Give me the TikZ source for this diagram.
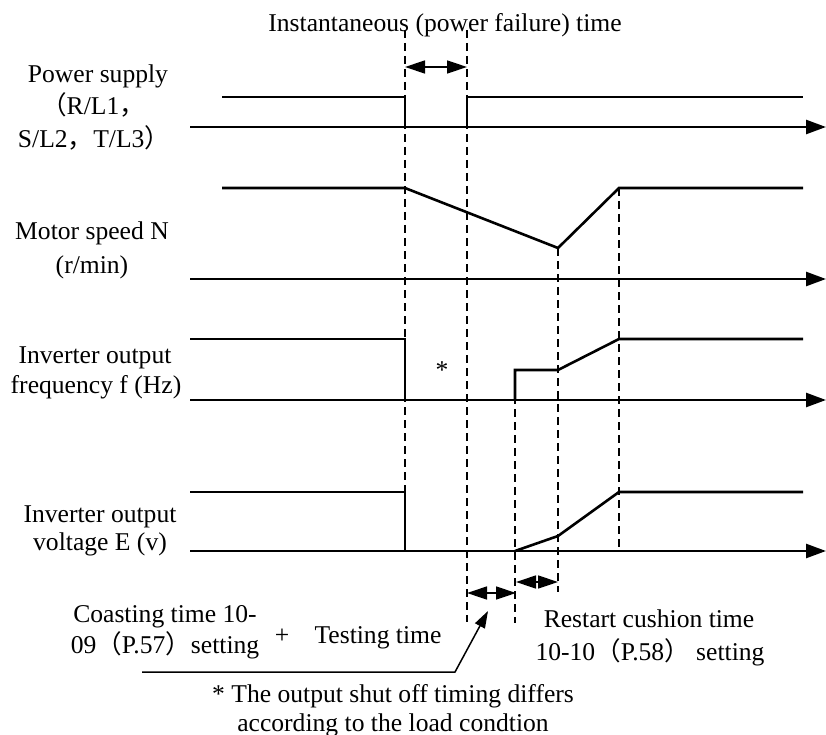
\documentclass[tikz,border=0pt]{standalone}
\usepackage{fontspec}
\setmainfont{Liberation Serif}
\newfontfamily\cjkfont{Noto Sans CJK SC}
\newcommand\fwl{{\cjkfont （}}
\newcommand\fwr{{\cjkfont ）}}
\newcommand\fwc{{\cjkfont ，}}
\usetikzlibrary{arrows.meta}
\tikzset{
  sig/.style={line width=2.6pt, line join=miter},
  axisline/.style={line width=2.6pt, -{Triangle[length=20pt,width=14pt]}},
  guide/.style={line width=1.2pt, dash pattern=on 8pt off 5pt},
  dimarrow/.style={line width=1.4pt, {Triangle[length=20pt,width=13pt]}-{Triangle[length=20pt,width=13pt]}},
  leader/.style={line width=1.5pt, -{Triangle[length=17pt,width=11pt]}},
  lbl/.style={anchor=base, inner sep=0pt}
}
\begin{document}
\begin{tikzpicture}[x=1pt,y=-1pt, font=\fontsize{25.6}{33}\selectfont]
\useasboundingbox (0,0) rectangle (826,735);

% time marks
\coordinate (t1top) at (405,30);  \coordinate (t1bot) at (405,551);
\coordinate (t2top) at (467,30);  \coordinate (t2bot) at (467,622);
\coordinate (t3top) at (515,370); \coordinate (t3bot) at (515,623);
\coordinate (t4top) at (558,248); \coordinate (t4bot) at (558,592);
\coordinate (t5top) at (619,188); \coordinate (t5bot) at (619,551);

\draw[guide] (t1top) -- (t1bot);
\draw[guide] (t2top) -- (t2bot);
\draw[guide] (t3top) -- (t3bot);
\draw[guide] (t4top) -- (t4bot);
\draw[guide] (t5top) -- (t5bot);

% axes
\coordinate (a1s) at (190,127); \coordinate (a1e) at (826,127);
\coordinate (a2s) at (190,279); \coordinate (a2e) at (826,279);
\coordinate (a3s) at (190,400); \coordinate (a3e) at (826,400);
\coordinate (a4s) at (190,551); \coordinate (a4e) at (826,551);
\draw[axisline] (a1s) -- (a1e);
\draw[axisline] (a2s) -- (a2e);
\draw[axisline] (a3s) -- (a3e);
\draw[axisline] (a4s) -- (a4e);

% power supply
\draw[sig] (222,97) -- (405,97) -- (405,127);
\draw[sig] (467,127) -- (467,97) -- (803,97);

% motor speed
\draw[sig] (222,188) -- (405,188) -- (558,248) -- (619,188) -- (803,188);

% frequency
\draw[sig] (190,339) -- (405,339) -- (405,400);
\draw[sig] (515,400) -- (515,370) -- (558,370) -- (619,339) -- (803,339);

% voltage
\draw[sig] (190,492) -- (405,492) -- (405,551);
\draw[sig] (515,551) -- (558,536) -- (619,492) -- (803,492);

% dimension arrows
\coordinate (d1a) at (405,67);  \coordinate (d1b) at (467,67);
\coordinate (d2a) at (467,593); \coordinate (d2b) at (516,593);
\coordinate (d3a) at (516,582); \coordinate (d3b) at (558,582);
\draw[dimarrow] (d1a) -- (d1b);
\draw[dimarrow] (d2a) -- (d2b);
\draw[dimarrow] (d3a) -- (d3b);

% leader
\coordinate (ls) at (142,672); \coordinate (lk) at (455,672); \coordinate (lt) at (488,611);
\draw[leader] (ls) -- (lk) -- (lt);

% labels
\node[lbl] (title) at (445,32) {Instantaneous (power failure) time};
\node[lbl] (ps1) at (98,83) {Power supply};
\node[lbl] (ps2) at (93,115) {\fwl R/L1\fwc};
\node[lbl] (ps3) at (94,148) {S/L2\fwc T/L3\fwr};
\node[lbl] (ms1) at (92,240) {Motor speed N};
\node[lbl] (ms2) at (92,273) {(r/min)};
\node[lbl] (fq1) at (95,363) {Inverter output};
\node[lbl] (fq2) at (96,393) {frequency f (Hz)};
\node[lbl] (vo1) at (100,522) {Inverter output};
\node[lbl] (vo2) at (100,550) {voltage E (v)};
\node[lbl] (star) at (442,378) {*};
\node[lbl] (ct1) at (165,622) {Coasting time 10-};
\node[lbl] (ct2) at (165,653) {09\fwl P.57\fwr setting};
\node[lbl] (plus) at (282,643) {+};
\node[lbl] (tt) at (378,643) {Testing time};
\node[lbl] (rc1) at (649,627) {Restart cushion time};
\node[lbl] (rc2) at (650,660) {10-10\fwl P.58\fwr\ setting};
\node[lbl] (n1) at (393,702) {* The output shut off timing differs};
\node[lbl] (n2) at (393,731) {according to the load condtion};
\end{tikzpicture}
\end{document}
